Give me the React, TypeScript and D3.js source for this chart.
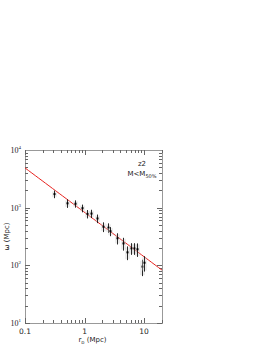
import React, { useEffect, useRef } from 'react';
import * as d3 from 'd3';

// measured projected separation (Mpc) and w (Mpc), with symmetric errors
const rp = [0.31, 0.5, 0.685, 0.9, 1.11, 1.3, 1.64, 2.04, 2.45, 2.69, 3.49, 4.35, 5.15, 6.0, 6.7, 7.6, 9.25, 10.1];
const wVal = [1720, 1190, 1170, 980, 780, 790, 650, 467, 450, 390, 295, 240, 168, 197, 197, 190, 95, 111];
const wErr = [260, 200, 170, 150, 130, 130, 110, 90, 85, 70, 65, 60, 45, 45, 45, 50, 30, 33];

// power-law fit: w = amp * rp^slope
const fitAmp = 830;
const fitSlope = -0.77;

const xTickLabels = ['0.1', '1', '10'];
const yTickExps = [1, 2, 3, 4];

const App = () => {
  const ref = useRef<SVGSVGElement>(null);

  useEffect(() => {
    const svg = d3.select(ref.current);
    svg.selectAll('*').remove();

    const left = 25, right = 162, top = 150, bottom = 323;
    const font = 'DejaVu Sans, sans-serif';

    const x = d3.scaleLog().domain([0.1, 20]).range([left, right]);
    const y = d3.scaleLog().domain([10, 10000]).range([bottom, top]);

    // frame
    svg.append('rect')
      .attr('x', left + 0.5).attr('y', top + 0.5)
      .attr('width', right - left).attr('height', bottom - top)
      .attr('fill', 'none').attr('stroke', '#999').attr('stroke-width', 1);

    // x ticks (bottom + top, inward)
    const xt: number[] = [];
    for (let dec = 0.1; dec < 20; dec *= 10) {
      for (let k = 1; k < 10; k++) {
        const v = +(dec * k).toPrecision(3);
        if (v <= 20) xt.push(v);
      }
    }
    xt.forEach(v => {
      const major = Math.abs(Math.log10(v) - Math.round(Math.log10(v))) < 1e-6;
      const len = major ? 5 : 3;
      const px = Math.round(x(v)) + 0.5;
      svg.append('line').attr('x1', px).attr('x2', px).attr('y1', bottom).attr('y2', bottom - len)
        .attr('stroke', '#666').attr('stroke-width', 1);
      svg.append('line').attr('x1', px).attr('x2', px).attr('y1', top).attr('y2', top + len)
        .attr('stroke', '#666').attr('stroke-width', 1);
    });
    [0.1, 1, 10].forEach((v, i) => {
      svg.append('text').attr('x', x(v)).attr('y', bottom + 11)
        .attr('text-anchor', 'middle').attr('font-family', font).attr('font-size', 7.5)
        .attr('fill', '#222').text(xTickLabels[i]);
    });

    // y ticks (left + right, inward)
    for (let e = 1; e < 4; e++) {
      for (let k = 1; k < 10; k++) {
        const v = k * Math.pow(10, e);
        const len = k === 1 ? 5 : 3;
        const py = Math.round(y(v)) + 0.5;
        svg.append('line').attr('x1', left).attr('x2', left + len).attr('y1', py).attr('y2', py)
          .attr('stroke', '#666').attr('stroke-width', 1);
        svg.append('line').attr('x1', right).attr('x2', right - len).attr('y1', py).attr('y2', py)
          .attr('stroke', '#666').attr('stroke-width', 1);
      }
    }
    yTickExps.forEach(e => {
      const t = svg.append('text').attr('x', left - 4).attr('y', y(Math.pow(10, e)) + 3)
        .attr('text-anchor', 'end').attr('font-family', 'Liberation Serif, serif').attr('font-size', 8)
        .attr('fill', '#222');
      t.append('tspan').text('10');
      t.append('tspan').attr('dy', -4).attr('font-size', 5).text(String(e));
    });

    // axis labels
    const xl = svg.append('text').attr('x', (left + right) / 2 - 1).attr('y', bottom + 19)
      .attr('text-anchor', 'middle').attr('font-family', font).attr('font-size', 7).attr('fill', '#222');
    xl.append('tspan').text('r');
    xl.append('tspan').attr('dy', 2).attr('font-size', 5).text('p');
    xl.append('tspan').attr('dy', -2).text(' (Mpc)');

    svg.append('text').attr('transform', `translate(9,${(top + bottom) / 2}) rotate(-90)`)
      .attr('text-anchor', 'middle').attr('font-family', font).attr('font-size', 7).attr('fill', '#222')
      .text('ω (Mpc)');

    // annotation
    svg.append('text').attr('x', 142).attr('y', 166).attr('text-anchor', 'middle')
      .attr('font-family', font).attr('font-size', 7).attr('fill', '#222').text('z2');
    const ann = svg.append('text').attr('x', 142).attr('y', 176).attr('text-anchor', 'middle')
      .attr('font-family', font).attr('font-size', 7).attr('fill', '#222');
    ann.append('tspan').text('M<M');
    ann.append('tspan').attr('dy', 2).attr('font-size', 5).text('50%');

    // clip for fit line
    svg.append('clipPath').attr('id', 'plotclip').append('rect')
      .attr('x', left).attr('y', top).attr('width', right - left).attr('height', bottom - top);

    const xs = d3.range(0, 41).map(i => 0.1 * Math.pow(200, i / 40));
    const line = d3.line<number>().x(d => x(d)).y(d => y(fitAmp * Math.pow(d, fitSlope)));
    svg.append('path').datum(xs).attr('d', line).attr('fill', 'none')
      .attr('stroke', '#e8231f').attr('stroke-width', 1).attr('clip-path', 'url(#plotclip)');

    // error bars and points
    const g = svg.append('g');
    rp.forEach((r, i) => {
      const cx = Math.round(x(r)) + 0.5;
      const y1 = y(wVal[i] + wErr[i]);
      const y2 = y(wVal[i] - wErr[i]);
      [-1.5, 1.5].forEach(off => {
        g.append('line').attr('x1', cx + off).attr('x2', cx + off).attr('y1', y1 + 1).attr('y2', y2 - 1)
          .attr('stroke', '#ccc').attr('stroke-width', 0.7);
      });
      g.append('line').attr('x1', cx).attr('x2', cx).attr('y1', y1).attr('y2', y2)
        .attr('stroke', '#111').attr('stroke-width', 0.9);
      g.append('rect').attr('x', cx - 1).attr('y', y(wVal[i]) - 1).attr('width', 2).attr('height', 2)
        .attr('fill', '#000');
    });
  }, []);

  return (
    <svg ref={ref} width={266} height={344}
      style={{ position: 'absolute', left: 0, top: 0, background: '#fff' }} />
  );
};

export default App;
